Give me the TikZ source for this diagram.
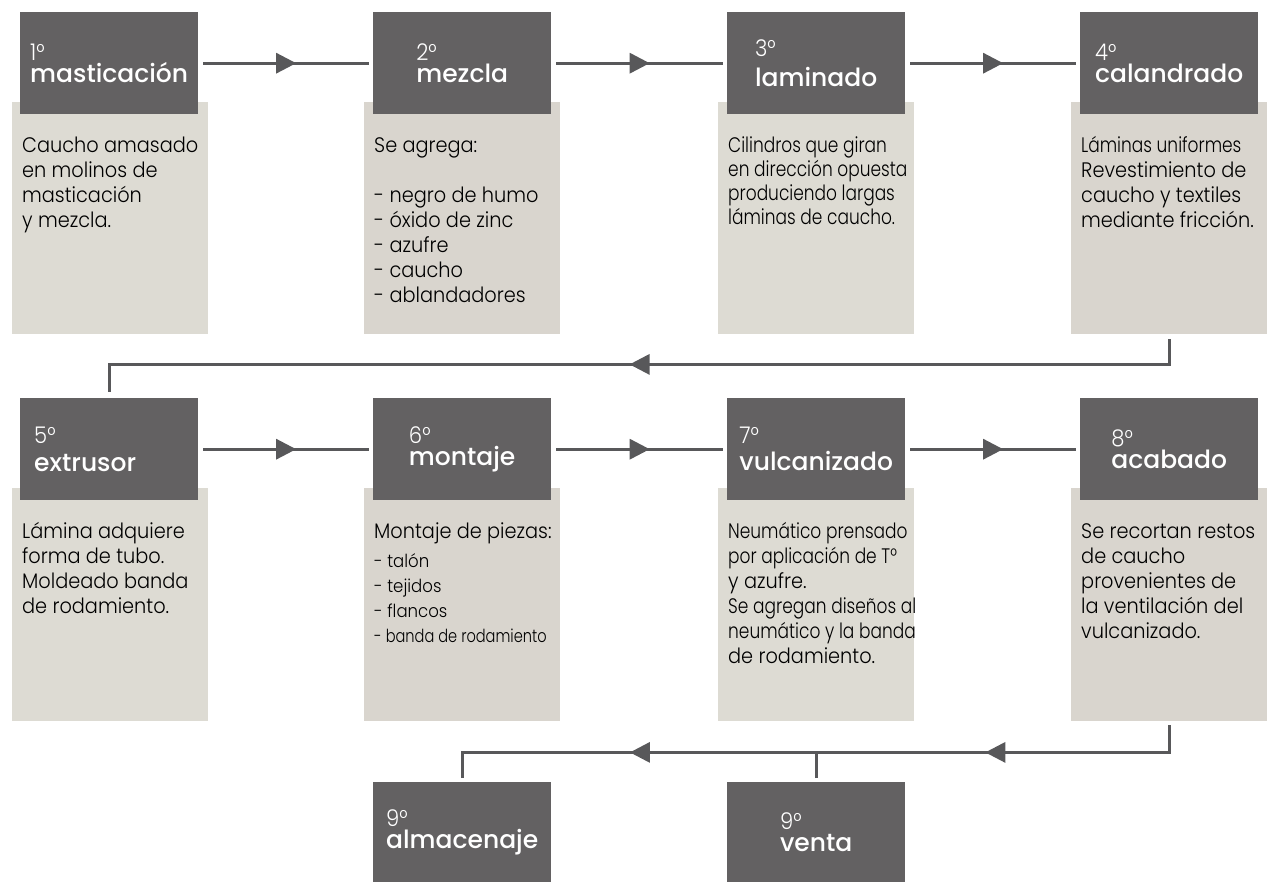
\documentclass[tikz,border=0pt]{standalone}
\usepackage{fontspec}
\usetikzlibrary{arrows.meta,decorations.markings}
\setmainfont{Poppins}
\newfontfamily\thinfont{Poppins Light}[FakeStretch=0.92]
\newfontfamily\narrowfont{Poppins Light}[FakeStretch=0.81]
\newfontfamily\titlefont{Poppins Medium}

\definecolor{headgray}{HTML}{636162}
\definecolor{paleA}{HTML}{DDDBD3}
\definecolor{paleB}{HTML}{D9D5CE}
\definecolor{linkgray}{HTML}{58585A}

\newcommand{\steptitle}[3][0pt]{{\thinfont\fontsize{23}{22}\selectfont #2}\\[#1]{#3}}
\newcommand{\topstrut}{\rule{0pt}{18pt}}
\newcommand{\smallitem}[1]{{\fontsize{18}{24}\selectfont - #1}}

\begin{document}
\begin{tikzpicture}[x=1pt,y=-1pt,
  head/.style={fill=headgray,text=white,anchor=north west,minimum width=178pt,
    minimum height=102pt,inner sep=0pt,align=left,font=\titlefont\fontsize{25}{22}\selectfont},
  sheet/.style={anchor=north west,minimum width=196pt,minimum height=232pt,inner sep=0pt},
  body/.style={anchor=north west,inner sep=0pt,align=left,text=black,
    font=\thinfont\fontsize{21}{25}\selectfont},
  flowtip/.tip={Triangle[length=20pt,width=20pt]},
  link/.style={color=linkgray,line width=3pt,shorten <=5pt,shorten >=4pt},
  midarrow/.style={postaction={decorate},
    decoration={markings,mark=at position #1 with {\arrow{flowtip}}}}]
  \useasboundingbox (0,0) rectangle (1272,882);

  % pale sheets behind the titles
  \node[sheet,fill=paleA] (tx1) at (12,102) {};
  \node[sheet,fill=paleB] (tx2) at (364,102) {};
  \node[sheet,fill=paleA] (tx3) at (718,102) {};
  \node[sheet,fill=paleB] (tx4) at (1071,102) {};
  \node[sheet,fill=paleA,minimum height=233pt] (tx5) at (12,488) {};
  \node[sheet,fill=paleB,minimum height=233pt] (tx6) at (364,488) {};
  \node[sheet,fill=paleA,minimum height=233pt] (tx7) at (718,488) {};
  \node[sheet,fill=paleB,minimum height=233pt] (tx8) at (1071,488) {};

  % step titles
  \node[head] (hd1) at (20,12) {\steptitle{1°}{masticación}};
  \node[head] (hd2) at (373,12) {\steptitle{2°}{mezcla}};
  \node[head] (hd3) at (727,12) {\steptitle[8pt]{3°}{laminado}};
  \node[head] (hd4) at (1080,12) {\steptitle{4°}{calandrado}};
  \node[head,text width=150pt] (hd5) at (20,398) {\steptitle[6pt]{5°}{extrusor}};
  \node[head] (hd6) at (373,398) {\steptitle{6°}{montaje}};
  \node[head] (hd7) at (727,398) {\steptitle[5pt]{7°}{vulcanizado}};
  \node[head] (hd8) at (1080,398) {\steptitle{8°}{acabado}};
  \node[head,minimum height=100pt] (hd9a) at (373,782) {\steptitle{9°}{almacenaje}};
  \node[head,minimum height=100pt] (hd9b) at (727,782) {\steptitle{9°}{venta}};

  % descriptions
  \node[body] (bd1) at ([shift={(10,32)}]tx1.north west)
    {\topstrut Caucho amasado\\en molinos de\\masticación\\y mezcla.};
  \node[body] (bd2) at ([shift={(10,32)}]tx2.north west)
    {\topstrut Se agrega:\\[25pt]- negro de humo\\- óxido de zinc\\- azufre\\- caucho\\- ablandadores};
  \node[body,font=\narrowfont\fontsize{21}{24}\selectfont] (bd3) at ([shift={(10,32)}]tx3.north west)
    {\topstrut Cilindros que giran\\en dirección opuesta\\produciendo largas\\láminas de caucho.};
  \node[body] (bd4) at ([shift={(10,32)}]tx4.north west)
    {\topstrut{\narrowfont Láminas uniformes}\\Revestimiento de\\caucho y textiles\\mediante fricción.};
  \node[body] (bd5) at ([shift={(10,32)}]tx5.north west)
    {\topstrut Lámina adquiere\\forma de tubo.\\Moldeado banda\\de rodamiento.};
  \node[body] (bd6) at ([shift={(10,32)}]tx6.north west)
    {\topstrut Montaje de piezas:\\[4pt]\smallitem{talón}\\\smallitem{tejidos}\\\smallitem{flancos}\\{\narrowfont\smallitem{banda de rodamiento}}};
  \node[body] (bd7) at ([shift={(10,32)}]tx7.north west)
    {\topstrut{\narrowfont Neumático prensado}\\{\narrowfont por aplicación de T°}\\y azufre.\\{\narrowfont Se agregan diseños al}\\{\narrowfont neumático y la banda}\\de rodamiento.};
  \node[body] (bd8) at ([shift={(10,32)}]tx8.north west)
    {\topstrut Se recortan restos\\de caucho\\provenientes de\\la ventilación del\\vulcanizado.};

  % connectors
  \draw[link,midarrow=0.56] (hd1.east) -- (hd2.west);
  \draw[link,midarrow=0.56] (hd2.east) -- (hd3.west);
  \draw[link,midarrow=0.56] (hd3.east) -- (hd4.west);
  \draw[link,midarrow=0.507,shorten >=6pt] (tx4.south) -- ++(0,30) -| (hd5.north);
  \draw[link,midarrow=0.56] (hd5.east) -- (hd6.west);
  \draw[link,midarrow=0.56] (hd6.east) -- (hd7.west);
  \draw[link,midarrow=0.56] (hd7.east) -- (hd8.west);
  \draw[link,shorten <=4pt,postaction={decorate},
    decoration={markings,mark=at position 0.28 with {\arrow{flowtip}},
      mark=at position 0.743 with {\arrow{flowtip}}}]
    (tx8.south) -- ++(0,31) coordinate (fork) -| (hd9a.north);
  \draw[link,shorten <=4pt,shorten >=0pt] (hd9b.north) -- (hd9b.north |- fork);
\end{tikzpicture}
\end{document}
